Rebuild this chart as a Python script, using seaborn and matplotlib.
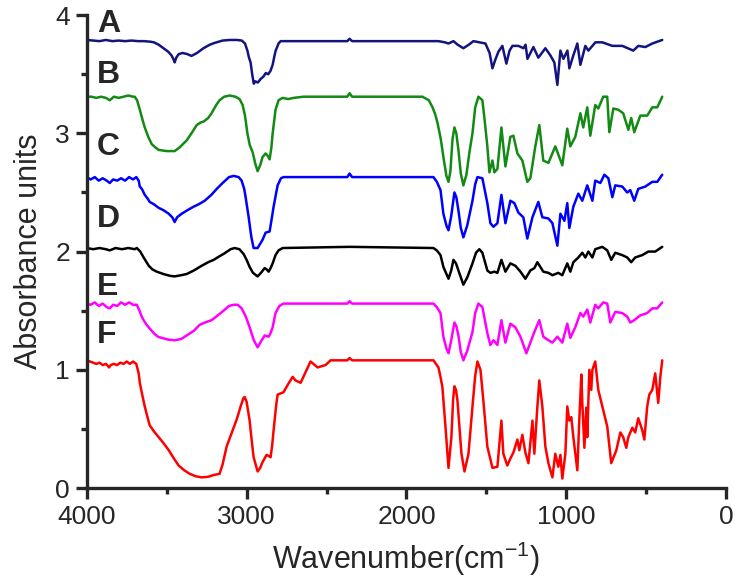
import seaborn as sns
import matplotlib.pyplot as plt
import pandas as pd
from matplotlib.ticker import MultipleLocator

# Style
sns.set_style("ticks")
plt.rcParams['font.family'] = ['Liberation Sans', 'DejaVu Sans']
plt.rcParams['mathtext.default'] = 'regular'

# Spectra: (wavenumber cm-1, absorbance)
spec_A = [(4000, 3.79), (3960, 3.785), (3920, 3.78), (3880, 3.79), (3840, 3.78), (3800, 3.785),
          (3760, 3.78), (3720, 3.785), (3680, 3.78), (3640, 3.78), (3600, 3.775), (3580, 3.77),
          (3550, 3.75), (3520, 3.72), (3490, 3.69), (3470, 3.66), (3455, 3.62), (3450, 3.60),
          (3440, 3.64), (3425, 3.67), (3400, 3.68), (3370, 3.67), (3345, 3.655), (3310, 3.68),
          (3270, 3.72), (3230, 3.75), (3200, 3.765), (3150, 3.785), (3105, 3.79), (3060, 3.79),
          (3030, 3.785), (3010, 3.76), (2995, 3.70), (2985, 3.64), (2975, 3.60), (2965, 3.50),
          (2955, 3.42), (2945, 3.44), (2930, 3.43), (2912, 3.46), (2895, 3.48), (2880, 3.51),
          (2865, 3.50), (2850, 3.53), (2837, 3.58), (2825, 3.66), (2818, 3.70), (2800, 3.76),
          (2787, 3.78), (2600, 3.78), (2370, 3.78), (2356, 3.80), (2340, 3.78), (2000, 3.78),
          (1800, 3.78), (1760, 3.77), (1737, 3.76), (1706, 3.78), (1680, 3.75), (1644, 3.72),
          (1610, 3.75), (1581, 3.78), (1506, 3.76), (1480, 3.68), (1462, 3.55), (1445, 3.62),
          (1425, 3.69), (1400, 3.74), (1375, 3.59), (1355, 3.70), (1337, 3.74), (1300, 3.74),
          (1268, 3.72), (1255, 3.75), (1243, 3.63), (1206, 3.73), (1175, 3.64), (1131, 3.72),
          (1100, 3.66), (1075, 3.60), (1056, 3.41), (1037, 3.70), (1018, 3.63), (993, 3.70),
          (981, 3.55), (956, 3.66), (931, 3.76), (912, 3.58), (881, 3.74), (862, 3.70),
          (818, 3.77), (775, 3.77), (712, 3.74), (650, 3.74), (581, 3.70), (550, 3.74),
          (506, 3.73), (462, 3.76), (400, 3.79)]

spec_B = [(4000, 3.31), (3970, 3.31), (3940, 3.30), (3910, 3.31), (3880, 3.30), (3856, 3.28),
          (3830, 3.31), (3800, 3.30), (3770, 3.31), (3740, 3.32), (3710, 3.31), (3700, 3.31),
          (3685, 3.28), (3668, 3.20), (3650, 3.11), (3637, 3.05), (3615, 2.97), (3594, 2.91),
          (3570, 2.88), (3550, 2.86), (3500, 2.85), (3450, 2.85), (3420, 2.88), (3375, 2.94),
          (3340, 3.01), (3312, 3.07), (3290, 3.09), (3269, 3.10), (3240, 3.13), (3219, 3.17),
          (3190, 3.24), (3169, 3.28), (3140, 3.31), (3106, 3.32), (3070, 3.31), (3044, 3.29),
          (3025, 3.24), (3010, 3.15), (2995, 3.00), (2980, 2.90), (2962, 2.84), (2945, 2.74),
          (2931, 2.68), (2915, 2.73), (2900, 2.80), (2881, 2.83), (2868, 2.81), (2856, 2.78),
          (2845, 2.88), (2837, 3.00), (2819, 3.20), (2800, 3.28), (2775, 3.30), (2740, 3.29),
          (2706, 3.30), (2644, 3.31), (2370, 3.31), (2356, 3.34), (2340, 3.31), (1900, 3.31),
          (1860, 3.28), (1837, 3.22), (1820, 3.16), (1806, 3.09), (1785, 2.95), (1769, 2.80),
          (1750, 2.64), (1737, 2.59), (1725, 2.68), (1712, 2.95), (1700, 3.05), (1688, 3.00),
          (1675, 2.86), (1660, 2.66), (1644, 2.56), (1625, 2.65), (1605, 2.85), (1587, 3.00),
          (1570, 3.22), (1550, 3.31), (1525, 3.28), (1510, 3.10), (1494, 2.89), (1481, 2.67),
          (1462, 2.77), (1450, 2.67), (1431, 2.70), (1406, 3.05), (1381, 2.72), (1350, 2.97),
          (1331, 2.98), (1306, 2.83), (1275, 2.77), (1244, 2.59), (1225, 2.62), (1194, 2.89),
          (1169, 3.07), (1144, 2.77), (1112, 2.75), (1069, 2.89), (1025, 2.73), (994, 3.04),
          (975, 2.89), (944, 2.97), (912, 3.17), (894, 3.05), (869, 3.22), (850, 2.98),
          (819, 3.24), (800, 3.21), (769, 3.31), (744, 3.31), (731, 3.01), (706, 3.21),
          (675, 3.20), (644, 3.17), (612, 3.03), (594, 3.13), (575, 3.01), (537, 3.15),
          (494, 3.15), (462, 3.22), (431, 3.22), (400, 3.31)]

spec_C = [(4000, 2.63), (3975, 2.61), (3950, 2.63), (3925, 2.60), (3900, 2.62), (3875, 2.60),
          (3856, 2.58), (3835, 2.61), (3810, 2.60), (3785, 2.62), (3760, 2.60), (3735, 2.63),
          (3710, 2.61), (3690, 2.63), (3675, 2.60), (3668, 2.55), (3655, 2.53), (3637, 2.48),
          (3620, 2.45), (3606, 2.42), (3580, 2.40), (3550, 2.37), (3520, 2.35), (3487, 2.32),
          (3465, 2.29), (3450, 2.25), (3435, 2.29), (3406, 2.32), (3370, 2.35), (3331, 2.38),
          (3300, 2.40), (3262, 2.43), (3220, 2.48), (3187, 2.53), (3150, 2.58), (3110, 2.63),
          (3081, 2.64), (3050, 2.63), (3031, 2.60), (3015, 2.53), (3006, 2.46), (2987, 2.29),
          (2970, 2.12), (2956, 2.03), (2931, 2.03), (2900, 2.10), (2881, 2.16), (2856, 2.17),
          (2845, 2.26), (2831, 2.38), (2806, 2.56), (2785, 2.62), (2769, 2.63), (2370, 2.63),
          (2356, 2.66), (2340, 2.63), (1831, 2.63), (1810, 2.59), (1787, 2.52), (1769, 2.32),
          (1750, 2.22), (1737, 2.18), (1720, 2.30), (1700, 2.50), (1688, 2.46), (1675, 2.35),
          (1660, 2.20), (1644, 2.12), (1620, 2.22), (1587, 2.43), (1570, 2.57), (1556, 2.63),
          (1525, 2.62), (1494, 2.41), (1475, 2.24), (1456, 2.21), (1431, 2.24), (1406, 2.48),
          (1381, 2.24), (1350, 2.43), (1325, 2.41), (1300, 2.33), (1269, 2.29), (1244, 2.11),
          (1212, 2.29), (1175, 2.42), (1150, 2.29), (1112, 2.28), (1087, 2.24), (1056, 2.05),
          (1037, 2.32), (1012, 2.26), (994, 2.41), (981, 2.20), (956, 2.38), (925, 2.49),
          (900, 2.43), (869, 2.56), (837, 2.43), (819, 2.60), (787, 2.58), (762, 2.65),
          (737, 2.62), (712, 2.46), (694, 2.56), (650, 2.55), (619, 2.50), (600, 2.52),
          (575, 2.43), (550, 2.53), (506, 2.55), (462, 2.59), (431, 2.59), (400, 2.65)]

spec_D = [(4000, 2.03), (3960, 2.02), (3920, 2.03), (3880, 2.02), (3856, 2.01), (3820, 2.03),
          (3780, 2.02), (3740, 2.03), (3700, 2.02), (3687, 2.03), (3665, 2.00), (3644, 1.95),
          (3612, 1.88), (3590, 1.85), (3562, 1.83), (3520, 1.81), (3480, 1.795), (3450, 1.79),
          (3410, 1.80), (3375, 1.81), (3330, 1.84), (3281, 1.88), (3240, 1.91), (3206, 1.93),
          (3170, 1.96), (3144, 1.98), (3100, 2.02), (3075, 2.03), (3045, 2.02), (3019, 1.98),
          (3000, 1.93), (2981, 1.87), (2960, 1.82), (2931, 1.79), (2910, 1.82), (2887, 1.86),
          (2875, 1.85), (2862, 1.83), (2850, 1.86), (2837, 1.90), (2819, 1.97), (2800, 2.01),
          (2775, 2.03), (2356, 2.04), (1831, 2.03), (1810, 2.01), (1787, 1.97), (1769, 1.87),
          (1737, 1.77), (1720, 1.84), (1706, 1.93), (1690, 1.90), (1675, 1.84), (1644, 1.72),
          (1620, 1.78), (1587, 1.90), (1565, 1.99), (1544, 2.02), (1525, 1.99), (1494, 1.84),
          (1475, 1.82), (1450, 1.83), (1431, 1.82), (1406, 1.93), (1381, 1.83), (1350, 1.90),
          (1319, 1.88), (1287, 1.83), (1256, 1.77), (1225, 1.84), (1200, 1.86), (1181, 1.91),
          (1144, 1.83), (1112, 1.82), (1087, 1.80), (1050, 1.82), (1025, 1.80), (994, 1.90),
          (975, 1.83), (956, 1.91), (925, 1.95), (900, 1.99), (881, 1.95), (862, 2.00),
          (837, 1.95), (819, 2.02), (775, 2.04), (744, 2.01), (719, 1.93), (694, 1.99),
          (650, 1.97), (619, 1.95), (594, 1.91), (569, 1.95), (525, 1.97), (487, 2.00),
          (444, 2.00), (400, 2.04)]

spec_E = [(4000, 1.56), (3975, 1.55), (3950, 1.57), (3925, 1.54), (3900, 1.56), (3875, 1.53),
          (3856, 1.52), (3835, 1.55), (3810, 1.54), (3785, 1.57), (3760, 1.55), (3735, 1.57),
          (3710, 1.55), (3687, 1.55), (3670, 1.50), (3656, 1.45), (3640, 1.41), (3625, 1.38),
          (3600, 1.34), (3581, 1.31), (3555, 1.28), (3531, 1.27), (3490, 1.255), (3450, 1.25),
          (3410, 1.26), (3375, 1.29), (3330, 1.33), (3294, 1.38), (3260, 1.40), (3219, 1.42),
          (3180, 1.46), (3144, 1.50), (3110, 1.54), (3081, 1.55), (3055, 1.55), (3031, 1.52),
          (3005, 1.45), (2981, 1.36), (2955, 1.25), (2931, 1.19), (2910, 1.24), (2887, 1.29),
          (2862, 1.28), (2850, 1.31), (2837, 1.36), (2819, 1.48), (2795, 1.54), (2769, 1.56),
          (2370, 1.56), (2356, 1.58), (2340, 1.56), (1831, 1.56), (1810, 1.53), (1787, 1.48),
          (1769, 1.28), (1750, 1.18), (1737, 1.14), (1720, 1.25), (1700, 1.40), (1688, 1.37),
          (1675, 1.29), (1660, 1.15), (1644, 1.08), (1620, 1.16), (1587, 1.32), (1570, 1.48),
          (1550, 1.56), (1525, 1.53), (1494, 1.31), (1475, 1.21), (1456, 1.25), (1431, 1.21),
          (1406, 1.42), (1381, 1.23), (1350, 1.39), (1319, 1.36), (1287, 1.28), (1250, 1.14),
          (1225, 1.23), (1200, 1.32), (1169, 1.42), (1144, 1.28), (1112, 1.25), (1087, 1.23),
          (1056, 1.28), (1025, 1.23), (994, 1.39), (975, 1.27), (944, 1.36), (912, 1.48),
          (894, 1.45), (869, 1.51), (850, 1.40), (819, 1.55), (800, 1.52), (769, 1.57),
          (744, 1.56), (725, 1.40), (694, 1.49), (650, 1.48), (619, 1.45), (600, 1.40),
          (575, 1.42), (537, 1.46), (494, 1.48), (462, 1.52), (431, 1.52), (400, 1.57)]

spec_F = [(4000, 1.08), (3980, 1.07), (3960, 1.06), (3940, 1.05), (3920, 1.06), (3900, 1.04),
          (3880, 1.05), (3860, 1.02), (3850, 1.04), (3830, 1.05), (3810, 1.04), (3790, 1.06),
          (3770, 1.05), (3750, 1.07), (3730, 1.05), (3710, 1.07), (3690, 1.05), (3675, 0.97),
          (3668, 0.89), (3650, 0.77), (3637, 0.69), (3620, 0.60), (3606, 0.53), (3580, 0.48),
          (3550, 0.43), (3520, 0.38), (3487, 0.32), (3455, 0.25), (3425, 0.19), (3390, 0.15),
          (3356, 0.12), (3320, 0.10), (3281, 0.09), (3240, 0.095), (3206, 0.11), (3169, 0.12),
          (3150, 0.20), (3125, 0.35), (3095, 0.46), (3062, 0.58), (3035, 0.70), (3020, 0.76),
          (3012, 0.77), (3000, 0.73), (2981, 0.57), (2968, 0.40), (2956, 0.26), (2931, 0.14),
          (2915, 0.17), (2900, 0.22), (2875, 0.28), (2860, 0.27), (2850, 0.26), (2840, 0.36),
          (2831, 0.49), (2815, 0.70), (2806, 0.79), (2769, 0.81), (2744, 0.87), (2712, 0.94),
          (2694, 0.91), (2662, 0.89), (2631, 0.98), (2600, 1.07), (2556, 1.02), (2506, 1.04),
          (2475, 1.08), (2370, 1.08), (2356, 1.10), (2340, 1.08), (2200, 1.08), (1831, 1.08),
          (1800, 1.02), (1787, 0.94), (1775, 0.85), (1756, 0.52), (1737, 0.17), (1719, 0.43),
          (1708, 0.75), (1700, 0.86), (1690, 0.83), (1681, 0.74), (1656, 0.29), (1637, 0.14),
          (1612, 0.29), (1587, 0.69), (1570, 0.95), (1556, 1.07), (1537, 1.00), (1519, 0.74),
          (1494, 0.35), (1462, 0.17), (1431, 0.18), (1406, 0.57), (1394, 0.29), (1369, 0.19),
          (1350, 0.25), (1331, 0.30), (1306, 0.41), (1294, 0.32), (1275, 0.45), (1256, 0.30),
          (1237, 0.21), (1212, 0.57), (1200, 0.29), (1181, 0.69), (1169, 0.91), (1150, 0.69),
          (1131, 0.35), (1112, 0.21), (1087, 0.09), (1069, 0.29), (1050, 0.18), (1037, 0.28),
          (1025, 0.08), (1006, 0.29), (994, 0.69), (981, 0.57), (969, 0.60), (956, 0.43),
          (931, 0.15), (919, 0.57), (906, 0.96), (900, 0.72), (887, 0.34), (875, 0.68),
          (869, 0.43), (856, 1.00), (844, 0.83), (837, 1.00), (819, 1.07), (800, 0.83),
          (775, 0.69), (744, 0.52), (719, 0.21), (687, 0.32), (662, 0.47), (644, 0.43),
          (625, 0.34), (612, 0.43), (587, 0.51), (569, 0.47), (550, 0.59), (525, 0.49),
          (512, 0.41), (494, 0.69), (481, 0.79), (462, 0.83), (444, 0.97), (425, 0.72),
          (412, 0.94), (400, 1.08)]

sample_names = ['A', 'B', 'C', 'D', 'E', 'F']
spectra = [spec_A, spec_B, spec_C, spec_D, spec_E, spec_F]
colors = ['#14147f', '#138a13', '#0000ff', '#000000', '#ff00ff', '#ff0000']
# letter positions (left x, baseline y in data units)
label_x = 3935
label_y = [3.855, 3.43, 2.815, 2.21, 1.63, 1.225]

rows = []
for name, spec in zip(sample_names, spectra):
    for wn, ab in spec:
        rows.append({'Wavenumber': wn, 'Absorbance': ab, 'Sample': name})
df = pd.DataFrame(rows)

fig = plt.figure(figsize=(7.35, 5.82), dpi=100)
ax = fig.add_axes([0.118, 0.1615, 0.870, 0.8125])

sns.lineplot(data=df, x='Wavenumber', y='Absorbance', hue='Sample',
             palette=dict(zip(sample_names, colors)), estimator=None,
             sort=False, linewidth=1.8, legend=False, ax=ax)

for name, y in zip(sample_names, label_y):
    ax.text(label_x, y, name, fontsize=23, fontweight='bold', ha='left', va='baseline')

ax.set_xlim(4000, 0)
ax.set_ylim(0, 4)
ax.xaxis.set_major_locator(MultipleLocator(1000))
ax.xaxis.set_minor_locator(MultipleLocator(500))
ax.yaxis.set_major_locator(MultipleLocator(1))
ax.yaxis.set_minor_locator(MultipleLocator(0.5))

for side in ['top', 'right']:
    ax.spines[side].set_visible(False)
for side in ['left', 'bottom']:
    ax.spines[side].set_linewidth(2.4)
ax.tick_params(which='major', length=8, width=2.4, labelsize=19, direction='out', pad=4)
ax.tick_params(which='minor', length=4.5, width=2.4, direction='out')

ax.set_xlabel('Wavenumber(cm$^{-1}$)', fontsize=22, labelpad=8)
ax.set_ylabel('Absorbance units', fontsize=22, labelpad=8)

plt.savefig('out.png', dpi=100)
